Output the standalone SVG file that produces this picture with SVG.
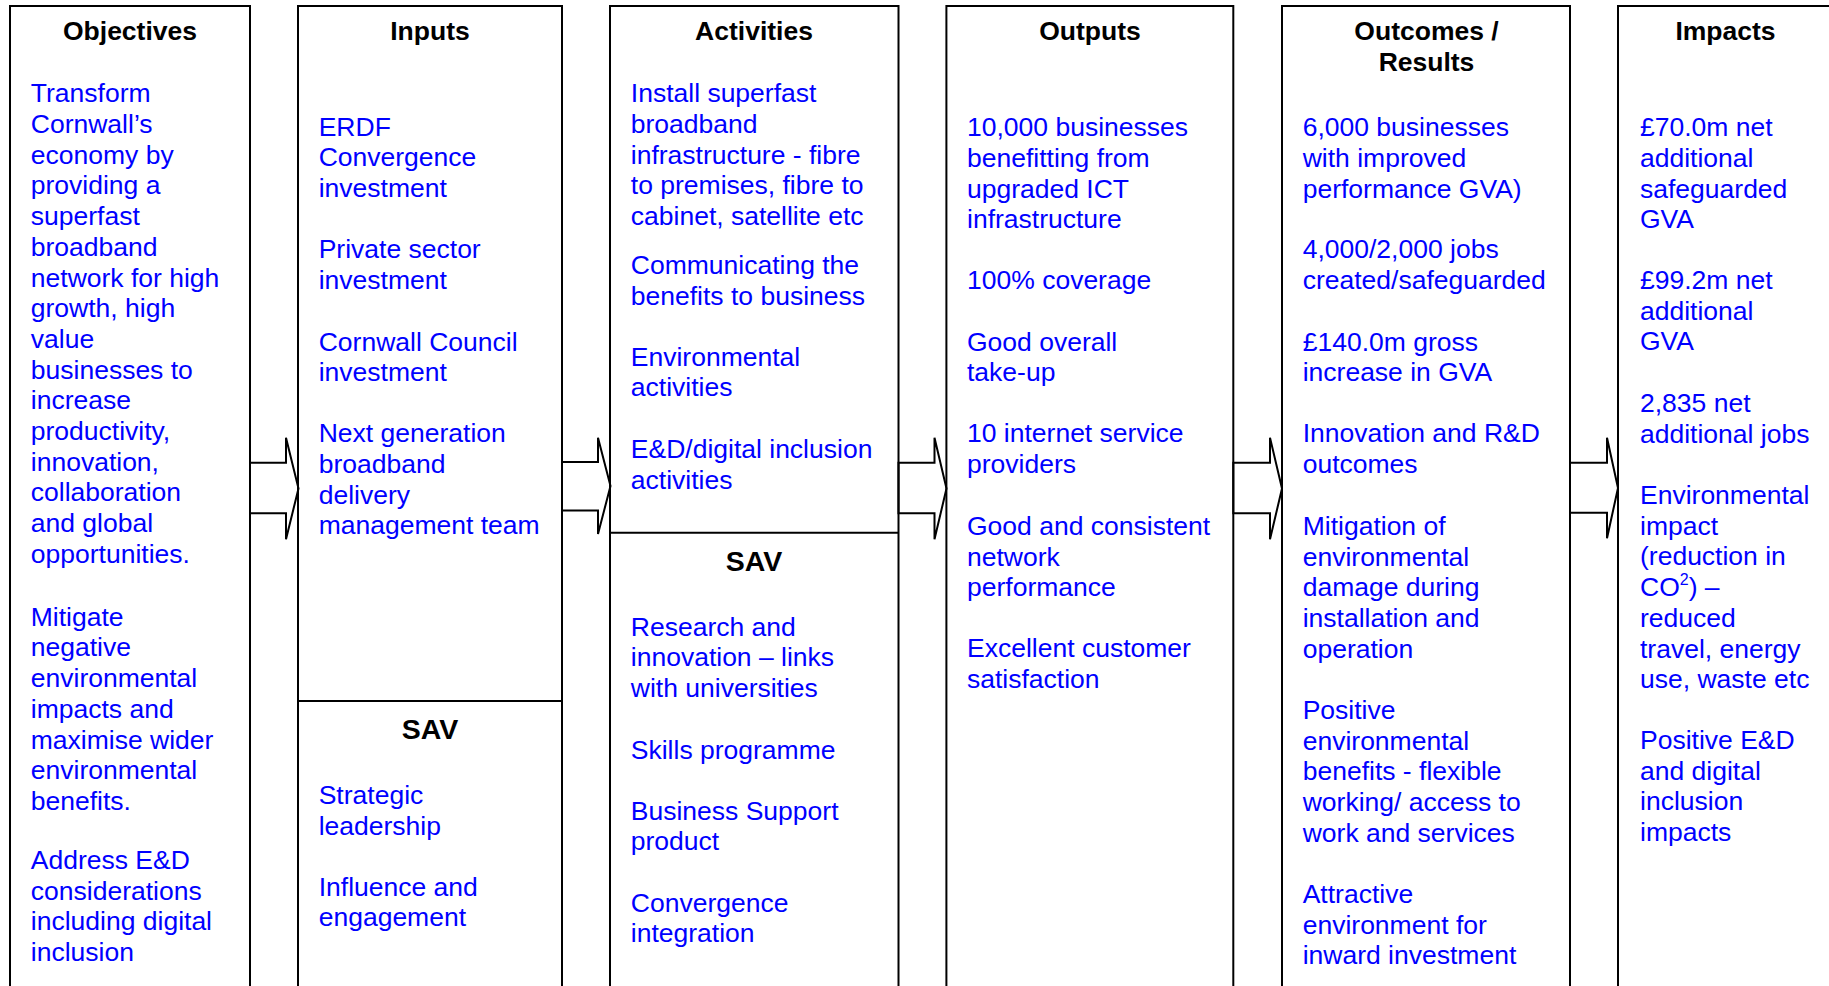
<svg xmlns="http://www.w3.org/2000/svg" width="1829" height="986" viewBox="0 0 1829 986">
<style>
.box{fill:none;stroke:#000;stroke-width:2}
.div{stroke:#000;stroke-width:2}
.arr{fill:#fff;stroke:#000;stroke-width:2;stroke-linejoin:miter}
.t{font-family:"Liberation Sans",Arial,sans-serif;font-size:26.5px;font-weight:bold;fill:#000;text-anchor:middle}
.s{font-size:28.5px}
.b{font-family:"Liberation Sans",Arial,sans-serif;font-size:26.5px;fill:#0000ff}
</style>
<rect width="1829" height="986" fill="#fff"/>
<g id="connectors">
<polygon class="arr" points="250,462.7 286,462.7 286,437.7 298.5,488.5 286,539.3 286,513.3 250,513.3"/>
<polygon class="arr" points="562,462 598,462 598,437.7 610.5,486 598,534 598,510.5 562,510.5"/>
<polygon class="arr" points="898.5,462.7 934.5,462.7 934.5,437.7 946.5,488.5 934.5,539.3 934.5,513.3 898.5,513.3"/>
<polygon class="arr" points="1233.3,462.7 1270,462.7 1270,437.7 1282,488.5 1270,539.3 1270,513.3 1233.3,513.3"/>
<polygon class="arr" points="1570,462.7 1607,462.7 1607,437.7 1618,488 1607,538.3 1607,512.7 1570,512.7"/>
</g>
<g id="objectives">
<rect class="box" x="10" y="6" width="240" height="1000"/>
<text class="t" x="130" y="39.5">Objectives</text>
<text class="b">
<tspan x="30.8" y="102.3">Transform</tspan>
<tspan x="30.8" y="133">Cornwall’s</tspan>
<tspan x="30.8" y="163.7">economy by</tspan>
<tspan x="30.8" y="194.4">providing a</tspan>
<tspan x="30.8" y="225.1">superfast</tspan>
<tspan x="30.8" y="255.8">broadband</tspan>
<tspan x="30.8" y="286.5">network for high</tspan>
<tspan x="30.8" y="317.2">growth, high</tspan>
<tspan x="30.8" y="347.9">value</tspan>
<tspan x="30.8" y="378.6">businesses to</tspan>
<tspan x="30.8" y="409.3">increase</tspan>
<tspan x="30.8" y="440">productivity,</tspan>
<tspan x="30.8" y="470.7">innovation,</tspan>
<tspan x="30.8" y="501.4">collaboration</tspan>
<tspan x="30.8" y="532.1">and global</tspan>
<tspan x="30.8" y="562.8">opportunities.</tspan>
</text>
<text class="b">
<tspan x="30.8" y="625.7">Mitigate</tspan>
<tspan x="30.8" y="656.4">negative</tspan>
<tspan x="30.8" y="687.1">environmental</tspan>
<tspan x="30.8" y="717.8">impacts and</tspan>
<tspan x="30.8" y="748.5">maximise wider</tspan>
<tspan x="30.8" y="779.2">environmental</tspan>
<tspan x="30.8" y="809.9">benefits.</tspan>
</text>
<text class="b">
<tspan x="30.8" y="869">Address E&amp;D</tspan>
<tspan x="30.8" y="899.7">considerations</tspan>
<tspan x="30.8" y="930.4">including digital</tspan>
<tspan x="30.8" y="961.1">inclusion</tspan>
</text>
</g>
<g id="inputs">
<rect class="box" x="298" y="6" width="264" height="1000"/>
<line class="div" x1="298" y1="701" x2="562" y2="701"/>
<text class="t" x="430" y="39.5">Inputs</text>
<text class="b">
<tspan x="318.7" y="135.7">ERDF</tspan>
<tspan x="318.7" y="166.4">Convergence</tspan>
<tspan x="318.7" y="197.1">investment</tspan>
</text>
<text class="b">
<tspan x="318.7" y="258.3">Private sector</tspan>
<tspan x="318.7" y="289">investment</tspan>
</text>
<text class="b">
<tspan x="318.7" y="350.7">Cornwall Council</tspan>
<tspan x="318.7" y="381.4">investment</tspan>
</text>
<text class="b">
<tspan x="318.7" y="442.3">Next generation</tspan>
<tspan x="318.7" y="473">broadband</tspan>
<tspan x="318.7" y="503.7">delivery</tspan>
<tspan x="318.7" y="534.4">management team</tspan>
</text>
<text class="t s" x="430" y="738.5">SAV</text>
<text class="b">
<tspan x="318.7" y="804">Strategic</tspan>
<tspan x="318.7" y="834.7">leadership</tspan>
</text>
<text class="b">
<tspan x="318.7" y="895.7">Influence and</tspan>
<tspan x="318.7" y="926.4">engagement</tspan>
</text>
</g>
<g id="activities">
<rect class="box" x="610" y="6" width="288.5" height="1000"/>
<line class="div" x1="610" y1="532.7" x2="898.5" y2="532.7"/>
<text class="t" x="754" y="39.5">Activities</text>
<text class="b">
<tspan x="630.8" y="102.3">Install superfast</tspan>
<tspan x="630.8" y="133">broadband</tspan>
<tspan x="630.8" y="163.7">infrastructure - fibre</tspan>
<tspan x="630.8" y="194.4">to premises, fibre to</tspan>
<tspan x="630.8" y="225.1">cabinet, satellite etc</tspan>
</text>
<text class="b">
<tspan x="630.8" y="274">Communicating the</tspan>
<tspan x="630.8" y="304.7">benefits to business</tspan>
</text>
<text class="b">
<tspan x="630.8" y="365.7">Environmental</tspan>
<tspan x="630.8" y="396.4">activities</tspan>
</text>
<text class="b">
<tspan x="630.8" y="458.3">E&amp;D/digital inclusion</tspan>
<tspan x="630.8" y="489">activities</tspan>
</text>
<text class="t s" x="754" y="570.5">SAV</text>
<text class="b">
<tspan x="630.8" y="635.7">Research and</tspan>
<tspan x="630.8" y="666.4">innovation – links</tspan>
<tspan x="630.8" y="697.1">with universities</tspan>
</text>
<text class="b"><tspan x="630.8" y="759">Skills programme</tspan></text>
<text class="b">
<tspan x="630.8" y="819.7">Business Support</tspan>
<tspan x="630.8" y="850.4">product</tspan>
</text>
<text class="b">
<tspan x="630.8" y="911.7">Convergence</tspan>
<tspan x="630.8" y="942.4">integration</tspan>
</text>
</g>
<g id="outputs">
<rect class="box" x="946.4" y="6" width="286.9" height="1000"/>
<text class="t" x="1090" y="39.5">Outputs</text>
<text class="b">
<tspan x="967" y="136.3">10,000 businesses</tspan>
<tspan x="967" y="167">benefitting from</tspan>
<tspan x="967" y="197.7">upgraded ICT</tspan>
<tspan x="967" y="228.4">infrastructure</tspan>
</text>
<text class="b"><tspan x="967" y="289">100% coverage</tspan></text>
<text class="b">
<tspan x="967" y="350.7">Good overall</tspan>
<tspan x="967" y="381.4">take-up</tspan>
</text>
<text class="b">
<tspan x="967" y="442.3">10 internet service</tspan>
<tspan x="967" y="473">providers</tspan>
</text>
<text class="b">
<tspan x="967" y="535">Good and consistent</tspan>
<tspan x="967" y="565.7">network</tspan>
<tspan x="967" y="596.4">performance</tspan>
</text>
<text class="b">
<tspan x="967" y="657.3">Excellent customer</tspan>
<tspan x="967" y="688">satisfaction</tspan>
</text>
</g>
<g id="outcomes">
<rect class="box" x="1282" y="6" width="288" height="1000"/>
<text class="t" x="1426.5"><tspan x="1426.5" y="40">Outcomes /</tspan><tspan x="1426.5" y="70.7">Results</tspan></text>
<text class="b">
<tspan x="1302.7" y="136.3">6,000 businesses</tspan>
<tspan x="1302.7" y="167">with improved</tspan>
<tspan x="1302.7" y="197.7">performance GVA)</tspan>
</text>
<text class="b">
<tspan x="1302.7" y="258.3">4,000/2,000 jobs</tspan>
<tspan x="1302.7" y="289">created/safeguarded</tspan>
</text>
<text class="b">
<tspan x="1302.7" y="350.7">£140.0m gross</tspan>
<tspan x="1302.7" y="381.4">increase in GVA</tspan>
</text>
<text class="b">
<tspan x="1302.7" y="442.3">Innovation and R&amp;D</tspan>
<tspan x="1302.7" y="473">outcomes</tspan>
</text>
<text class="b">
<tspan x="1302.7" y="535">Mitigation of</tspan>
<tspan x="1302.7" y="565.7">environmental</tspan>
<tspan x="1302.7" y="596.4">damage during</tspan>
<tspan x="1302.7" y="627.1">installation and</tspan>
<tspan x="1302.7" y="657.8">operation</tspan>
</text>
<text class="b">
<tspan x="1302.7" y="719">Positive</tspan>
<tspan x="1302.7" y="749.7">environmental</tspan>
<tspan x="1302.7" y="780.4">benefits - flexible</tspan>
<tspan x="1302.7" y="811.1">working/ access to</tspan>
<tspan x="1302.7" y="841.8">work and services</tspan>
</text>
<text class="b">
<tspan x="1302.7" y="903">Attractive</tspan>
<tspan x="1302.7" y="933.7">environment for</tspan>
<tspan x="1302.7" y="964.4">inward investment</tspan>
</text>
</g>
<g id="impacts">
<rect class="box" x="1618" y="6" width="300" height="1000"/>
<text class="t" x="1725.5" y="39.5">Impacts</text>
<text class="b">
<tspan x="1640" y="136.3">£70.0m net</tspan>
<tspan x="1640" y="167">additional</tspan>
<tspan x="1640" y="197.7">safeguarded</tspan>
<tspan x="1640" y="228.4">GVA</tspan>
</text>
<text class="b">
<tspan x="1640" y="289">£99.2m net</tspan>
<tspan x="1640" y="319.7">additional</tspan>
<tspan x="1640" y="350.4">GVA</tspan>
</text>
<text class="b">
<tspan x="1640" y="412.3">2,835 net</tspan>
<tspan x="1640" y="443">additional jobs</tspan>
</text>
<text class="b">
<tspan x="1640" y="504">Environmental</tspan>
<tspan x="1640" y="534.7">impact</tspan>
<tspan x="1640" y="565.4">(reduction in</tspan>
<tspan x="1640" y="596.1">CO<tspan font-size="16" dy="-11">2</tspan><tspan dy="11">) –</tspan></tspan>
<tspan x="1640" y="626.8">reduced</tspan>
<tspan x="1640" y="657.5">travel, energy</tspan>
<tspan x="1640" y="688.2">use, waste etc</tspan>
</text>
<text class="b">
<tspan x="1640" y="749">Positive E&amp;D</tspan>
<tspan x="1640" y="779.7">and digital</tspan>
<tspan x="1640" y="810.4">inclusion</tspan>
<tspan x="1640" y="841.1">impacts</tspan>
</text>
</g>
</svg>
